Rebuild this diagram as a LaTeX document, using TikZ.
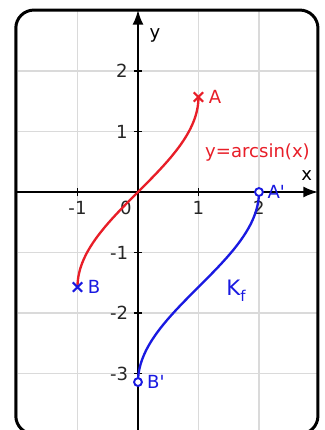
\documentclass[tikz,border=0pt]{standalone}
\usepackage{fontspec}
\newfontfamily\plotfont{DejaVu Sans}
\usetikzlibrary{arrows.meta,shapes.misc}

\definecolor{arcred}{RGB}{232,30,40}
\definecolor{kfblue}{RGB}{25,25,225}
\definecolor{gridgray}{RGB}{218,218,218}

\begin{document}
\begin{tikzpicture}[
    font=\plotfont\fontsize{8.5}{10}\selectfont,
    frame/.style={
        draw,
        line width=1.4pt,
        rounded corners=0.3cm
    },
    gridline/.style={
        draw,
        gridgray,
        line width=0.6pt
    },
    axis/.style={
        draw,
        line width=0.9pt,
        -{Latex[length=2.4mm,width=1.8mm]}
    },
    tickmark/.style={
        draw,
        line width=0.9pt
    },
    xlab/.style={anchor=north, inner sep=1pt, text=black!85},
    ylab/.style={anchor=east, inner sep=1pt, text=black!85},
    redcurve/.style={
        draw,
        arcred,
        line width=1.1pt
    },
    bluecurve/.style={
        draw,
        kfblue,
        line width=1.1pt
    },
    crossmark/.style={
        cross out,
        draw,
        line width=1pt,
        minimum size=0.12cm,
        inner sep=0pt
    },
    hollow/.style={
        circle,
        draw=kfblue,
        fill=white,
        line width=0.9pt,
        minimum size=0.13cm,
        inner sep=0pt
    }
]

    % --- Canvas ---
    \useasboundingbox (-2.281,-3.934) rectangle (3.091,3.174);

    % --- Grid, clipped to the frame ---
    \begin{scope}
        \clip[rounded corners=0.3cm] (-2.02,-4.0) rectangle (2.975,3.008);
        \fill[white] (-2.02,-4.0) rectangle (2.975,3.008);
        \foreach \x in {-2,...,3}
            \path[gridline] (\x,-4.2) -- (\x,3.2);
        \foreach \y in {-4,...,3}
            \path[gridline] (-2.2,\y) -- (3.2,\y);
    \end{scope}

    % --- Axes ---
    \coordinate (O) at (0,0);
    \coordinate (xstart) at (-2.02,0);
    \coordinate (xend) at (2.975,0);
    \coordinate (ystart) at (0,-4.2);
    \coordinate (yend) at (0,3.008);
    \path[axis] (xstart) -- (xend);
    \path[axis] (ystart) -- (yend);
    \node (xname) at (2.79,0.28) {x};
    \node (yname) at (0.28,2.58) {y};

    % ticks and numbers
    \foreach \x in {-1,1,2}
        \path[tickmark] (\x,-0.07) -- (\x,0.07);
    \foreach \y in {-3,-2,-1,1,2}
        \path[tickmark] (-0.07,\y) -- (0.07,\y);
    \node[xlab] (xm1) at (-1,-0.11) {-1};
    \node[xlab] (x0) at (-0.2,-0.11) {0};
    \node[xlab] (x1) at (1,-0.11) {1};
    \node[xlab] (x2) at (2,-0.11) {2};
    \node[ylab] (y2) at (-0.13,2) {2};
    \node[ylab] (y1) at (-0.13,1) {1};
    \node[ylab] (ym1) at (-0.12,-1) {-1};
    \node[ylab] (ym2) at (-0.12,-2) {-2};
    \node[ylab] (ym3) at (-0.12,-3) {-3};

    % --- Curves ---
    % y = arcsin(x)
    \path[redcurve] plot[domain=-pi/2:pi/2, samples=80, smooth]
        ({sin(\x r)}, \x);
    % K_f: shifted by (1,-pi/2)
    \path[bluecurve] plot[domain=-pi:0, samples=80, smooth]
        ({1+sin((\x+pi/2) r)}, \x);

    % --- Points ---
    \node[crossmark, draw=arcred] (A) at (1,{pi/2}) {};
    \node[crossmark, draw=kfblue] (B) at (-1,{-pi/2}) {};
    \node[hollow] (A') at (2,0) {};
    \node[hollow] (B') at (0,{-pi}) {};

    \node[anchor=west, text=arcred, inner sep=1pt] (Alab) at ([xshift=0.05cm]A.east) {A};
    \node[anchor=west, text=kfblue, inner sep=1pt] (Blab) at ([xshift=0.05cm]B.east) {B};
    \node[anchor=west, text=kfblue, inner sep=1pt] (A'lab) at ([xshift=0.02cm]A'.east) {A'};
    \node[anchor=west, text=kfblue, inner sep=1pt] (B'lab) at ([xshift=0.03cm]B'.east) {B'};

    \node[text=arcred] (eqn) at (1.975,0.653) {y=arcsin(x)};
    \node[text=kfblue, font=\plotfont\fontsize{10}{11}\selectfont] (kf) at (1.62,-1.63)
        {K\raisebox{-0.5ex}{\fontsize{7}{8}\selectfont f}};

    % --- Frame ---
    \path[frame] (-2.02,-4.0) rectangle (2.975,3.008);

\end{tikzpicture}
\end{document}
